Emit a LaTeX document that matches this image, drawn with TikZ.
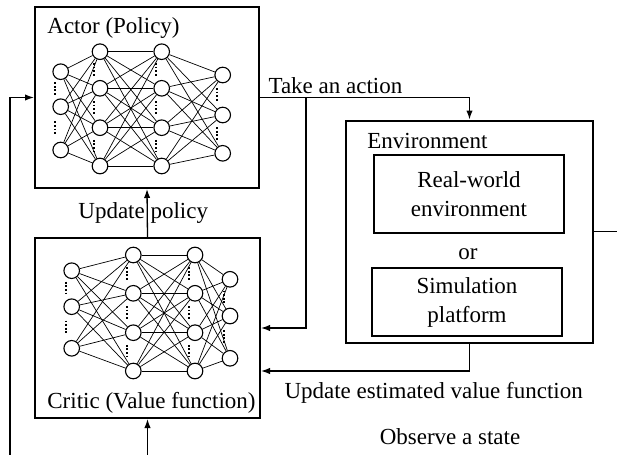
\documentclass[tikz,border=0pt]{standalone}
\usepackage{fontspec}
\setmainfont{Liberation Serif}
\usetikzlibrary{arrows.meta,positioning,calc}

\begin{document}
\begin{tikzpicture}[
 x=0.5pt,y=-0.5pt,
 lbl/.style={font=\fontsize{11.5}{14.5}\selectfont,inner sep=1.5pt},
 b/.style={draw,line width=1pt,inner sep=0pt},
 sb/.style={draw,line width=1pt,align=center,minimum width=95pt,font=\fontsize{11.5}{14.5}\selectfont},
 a/.style={-{Latex[length=4.5pt,width=3.2pt]},line width=0.65pt},
 ln/.style={line width=0.65pt},
 neu/.style={circle,draw,fill=white,line width=0.55pt,minimum size=7.8pt,inner sep=0pt},
 w/.style={line width=0.35pt},
 dt/.style={line width=1.1pt,dash pattern=on 0.9pt off 0.9pt}
]
\useasboundingbox (0,0) rectangle (617,455);

% boxes
\node[b,minimum width=112pt,minimum height=90.5pt] (actor) at (147,97.5) {};
\node[b,minimum width=112.5pt,minimum height=90pt] (critic) at (147.5,328) {};
\node[b,minimum width=123.5pt,minimum height=111pt] (env) at (469.5,231.5) {};
\node[sb,minimum height=39pt] (real) at (469,194) {Real-world\\environment};
\node[sb,minimum height=34pt] (sim) at (467,302) {Simulation\\platform};
\node[lbl] (or) at ($(real.south)!0.5!(sim.north)+(0,4)$) {or};
\node[lbl,anchor=west] (envlbl) at ($(env.north west)+(19,21)$) {Environment};
\node[lbl,anchor=west] (actlbl) at ($(actor.north west)+(10,22)$) {Actor (Policy)};
\node[lbl] (crilbl) at ($(critic.south)+(4,-16)$) {Critic (Value function)};

% actor network
\foreach \l/\x/\ys in {1/60.7/{71.7,106.7,150},2/100/{51.7,88.3,127.7,166},3/161.7/{51.7,88.3,127.7,166},4/222.7/{75,115,153.3}}
  \foreach \y [count=\i] in \ys
    \node[neu] (ac-\l-\i) at (\x,\y) {};
\foreach \l/\m/\p/\q in {1/2/3/4,2/3/4/4,3/4/4/3}
  \foreach \i in {1,...,\p}
    \foreach \j in {1,...,\q}
      \draw[w] (ac-\l-\i) -- (ac-\m-\j);
\foreach \l/\g in {1/{1,2},2/{1,2,3},3/{1,2,3},4/{1,2}}
  \foreach \i in \g {
    \pgfmathtruncatemacro\j{\i+1}
    \draw[dt] ($(ac-\l-\i)!0.5!(ac-\l-\j)+(-6,-7)$) -- ++(0,14);
  }

% critic network
\foreach \l/\x/\ys in {1/71.7/{270.7,306.7,348.3},2/133.3/{255,293.3,332.7,371},3/195/{255,293.3,332.7,371},4/230/{279.3,316,358.3}}
  \foreach \y [count=\i] in \ys
    \node[neu] (cr-\l-\i) at (\x,\y) {};
\foreach \l/\m/\p/\q in {1/2/3/4,2/3/4/4,3/4/4/3}
  \foreach \i in {1,...,\p}
    \foreach \j in {1,...,\q}
      \draw[w] (cr-\l-\i) -- (cr-\m-\j);
\foreach \l/\g in {1/{1,2},2/{1,2,3},3/{1,2,3},4/{1,2}}
  \foreach \i in \g {
    \pgfmathtruncatemacro\j{\i+1}
    \draw[dt] ($(cr-\l-\i)!0.5!(cr-\l-\j)+(-6,-7)$) -- ++(0,14);
  }

% connectors
\coordinate (br) at (306,97.5);
\coordinate (rgt) at (617,231.5);
\coordinate (lp1) at (10,455);
\coordinate (lp2) at (147.5,455);
\draw[a] (actor.east) -| node[lbl,pos=0.18,above]{Take an action} (env.north);
\draw[a] (br) |- (critic.east);
\draw[a] (critic.north) -- node[lbl,xshift=-2pt]{Update policy} (actor.south);
\draw[a] (env.south) |- node[lbl,pos=0.586,below=4pt]{Update estimated value function} ($(critic.east)+(0,43)$);
\draw[ln] (env.east) -- (rgt);
\draw[a] (lp1) |- (actor.west);
\draw[a] (lp2) -- (critic.south);
\node[lbl] (obs) at (450,437) {Observe a state};
\end{tikzpicture}
\end{document}
